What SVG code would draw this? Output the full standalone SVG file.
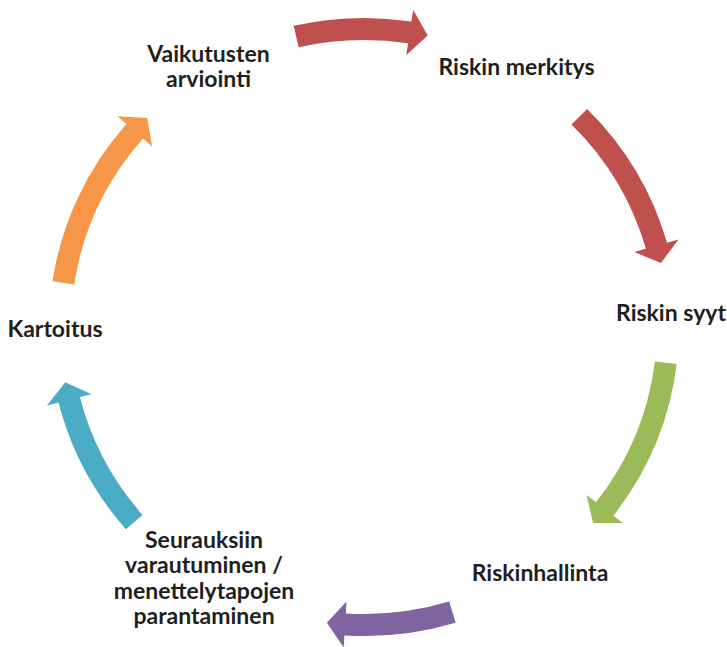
<svg xmlns="http://www.w3.org/2000/svg" width="727" height="647" viewBox="0 0 727 647">
<style>
  .lbl { font-family: Lato, "Liberation Sans", sans-serif; font-weight: bold; font-size: 23px; fill: #1f1f1f; text-anchor: middle; }
</style>
<rect width="727" height="647" fill="#ffffff"/>
<g id="connectors">
  <path id="a1" fill="#C0504D" d="M293.7,25.8 A315,309 0 0 1 411.4,21.5 L413.2,9.7 L427.7,35.6 L406.3,55.1 L408.1,43.3 A293,287 0 0 0 298.6,47.2 Z"/>
  <path id="a2" fill="#C0504D" d="M587.1,108.9 A315,309 0 0 1 667.0,242.7 L678.6,239.4 L660.9,263.0 L634.3,252.0 L645.9,248.7 A293,287 0 0 0 571.5,124.4 Z"/>
  <path id="a3" fill="#9BBB59" d="M676.7,364.1 A315,309 0 0 1 613.4,515.7 L622.9,523.1 L593.1,522.9 L586.5,495.0 L596.0,502.3 A293,287 0 0 0 654.9,361.5 Z"/>
  <path id="a4" fill="#8064A2" d="M455.6,622.7 A315,309 0 0 1 344.4,635.4 L343.7,647.4 L326.9,622.8 L346.5,601.5 L345.8,613.5 A293,287 0 0 0 449.2,601.6 Z"/>
  <path id="a5" fill="#4BACC6" d="M125.9,529.3 A315,309 0 0 1 58.5,402.5 L46.9,405.4 L65.3,382.3 L91.5,394.2 L79.9,397.1 A293,287 0 0 0 142.5,514.9 Z"/>
  <path id="a6" fill="#F79646" d="M52.5,281.3 A315,309 0 0 1 126.5,124.0 L117.4,116.2 L147.2,118.1 L152.1,146.4 L143.0,138.5 A293,287 0 0 0 74.2,284.6 Z"/>
</g>
<g id="n1"><text class="lbl" x="516.5" y="75">Riskin merkitys</text></g>
<g id="n2"><text class="lbl" x="671" y="321">Riskin syyt</text></g>
<g id="n3"><text class="lbl" x="540" y="581">Riskinhallinta</text></g>
<g id="n4">
  <text class="lbl" x="204" y="548">Seurauksiin</text>
  <text class="lbl" x="204" y="573">varautuminen /</text>
  <text class="lbl" x="204" y="598.5">menettelytapojen</text>
  <text class="lbl" x="204" y="624">parantaminen</text>
</g>
<g id="n5"><text class="lbl" x="55" y="337">Kartoitus</text></g>
<g id="n6">
  <text class="lbl" x="208.5" y="62">Vaikutusten</text>
  <text class="lbl" x="208.5" y="87">arviointi</text>
</g>
</svg>
